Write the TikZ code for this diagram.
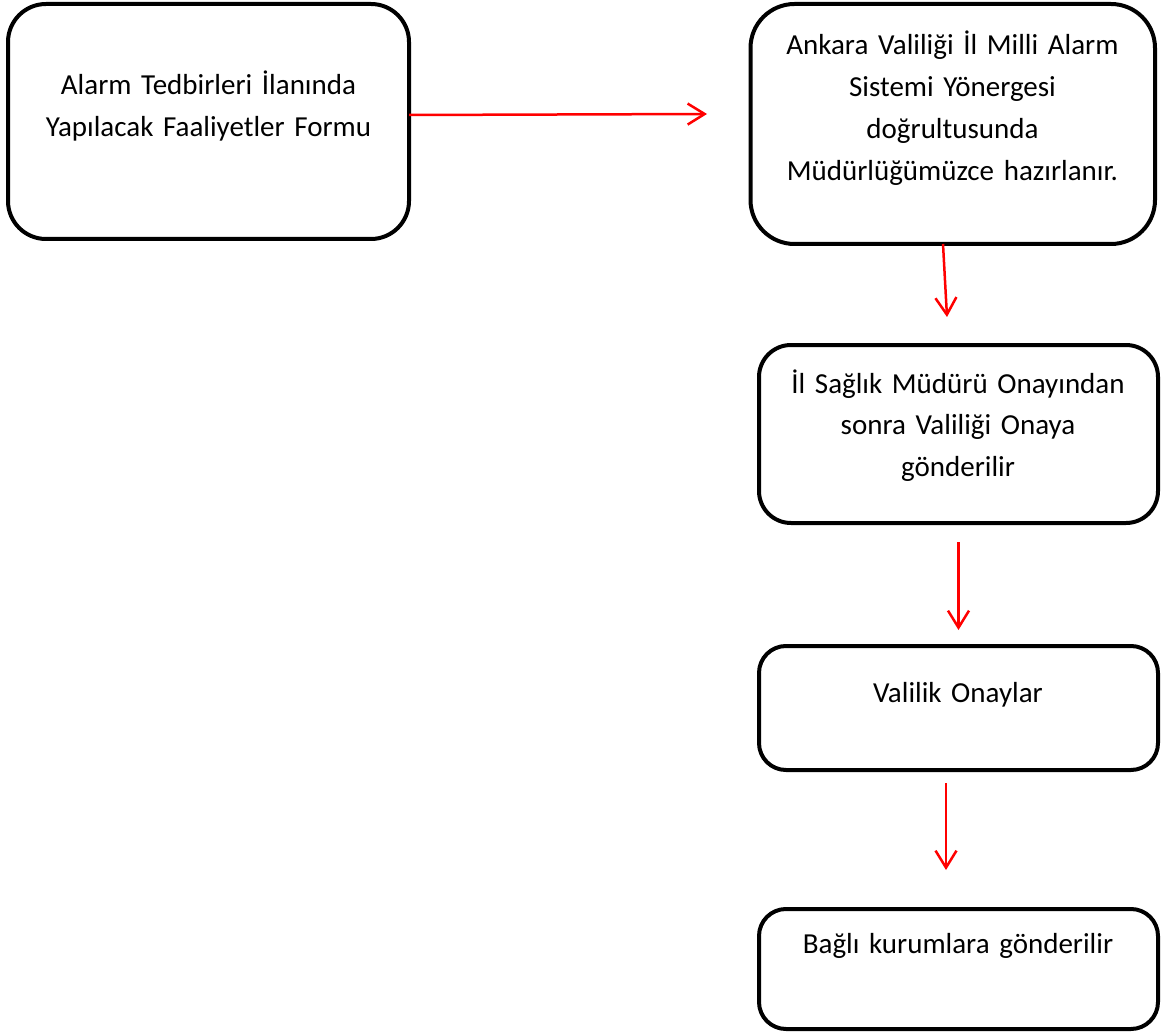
\documentclass[tikz,border=0pt]{standalone}
\usepackage{fontspec}
\setmainfont{Carlito}
\usetikzlibrary{arrows.meta}
\begin{document}
\begin{tikzpicture}[x=1pt,y=-1pt,
  stepbox/.style={draw=black, line width=4pt, rounded corners=#1,
    inner sep=0pt, outer sep=0pt},
  stepbox/.default=30pt,
  boxtext/.style={font=\fontsize{29}{41.7}\selectfont, text width=420pt,
    align=center, anchor=base, inner sep=0pt},
  flowarrow/.style={draw=red, line width=2.5pt,
    -{Straight Barb[length=17pt,width=21pt]}}]
\useasboundingbox (0,0) rectangle (1162,1032);

% process boxes
\node[stepbox=38pt, minimum width=401pt, minimum height=235pt] (b1) at (208.5,121.5) {};
\node[stepbox=44pt, minimum width=404.5pt, minimum height=240pt] (b2) at (952.75,124) {};
\node[stepbox=32pt, minimum width=399pt, minimum height=178pt] (b3) at (958.5,434) {};
\node[stepbox=27pt, minimum width=399pt, minimum height=124pt] (b4) at (958.5,708) {};
\node[stepbox=27pt, minimum width=399pt, minimum height=120pt] (b5) at (958.5,969) {};

% box texts
\node[boxtext] (t1) at (208.5,95) {Alarm Tedbirleri İlanında\\Yapılacak Faaliyetler Formu};
\node[boxtext] (t2) at (952.5,55) {Ankara Valiliği İl Milli Alarm\\Sistemi Yönergesi\\doğrultusunda\\Müdürlüğümüzce hazırlanır.};
\node[boxtext] (t3) at (958,393) {İl Sağlık Müdürü Onayından\\sonra Valiliği Onaya\\gönderilir};
\node[boxtext] (t4) at (958,702) {Valilik Onaylar};
\node[boxtext] (t5) at (958,953) {Bağlı kurumlara gönderilir};

% flow arrows
\draw[flowarrow] ([yshift=6.5pt]b1.east) -- ([xshift=-43.5pt,yshift=10pt]b2.west);
\draw[flowarrow] ([xshift=-9.75pt]b2.south) -- ([xshift=-11.5pt,yshift=28pt]b3.north);
\draw[flowarrow] ([yshift=-19pt]b3.south) -- ([yshift=16pt]b4.north);
\draw[flowarrow] ([xshift=-12.5pt,yshift=-13pt]b4.south) -- ([xshift=-12.5pt,yshift=39pt]b5.north);
\end{tikzpicture}
\end{document}
